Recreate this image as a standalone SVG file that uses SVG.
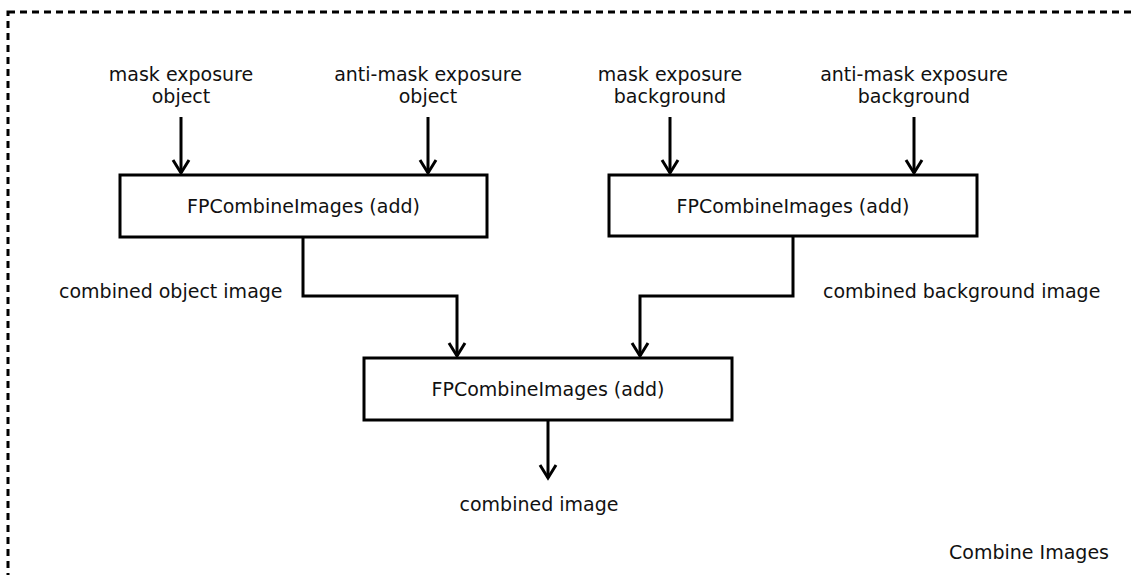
<svg xmlns="http://www.w3.org/2000/svg" width="1134" height="575" viewBox="0 0 1134 575">
<defs>
<style>
text{font-family:"DejaVu Sans","Liberation Sans",sans-serif;font-size:19px;fill:#111;}
.c{text-anchor:middle;}
.box{fill:#fff;stroke:#000;stroke-width:3;}
.con{fill:none;stroke:#000;stroke-width:3;marker-end:url(#arr);}
</style>
<marker id="arr" markerUnits="userSpaceOnUse" markerWidth="30" markerHeight="30" refX="0" refY="0" orient="auto" overflow="visible">
<path d="M-13,-8 L0,0 L-13,8" fill="none" stroke="#000" stroke-width="3"/>
</marker>
</defs>
<rect id="frame" x="8" y="12" width="1200" height="620" fill="none" stroke="#000" stroke-width="3" stroke-dasharray="7 5"/>
<g id="connectors">
<path class="con" d="M181,117 V173"/>
<path class="con" d="M428,117 V173"/>
<path class="con" d="M670,117 V173"/>
<path class="con" d="M914,117 V173"/>
<path class="con" d="M303,237 V296 H457 V356"/>
<path class="con" d="M793,237 V296 H640 V356"/>
<path class="con" d="M548,420 V478"/>
</g>
<g id="in1"><text class="c" x="181" y="81">mask exposure</text><text class="c" x="181" y="103">object</text></g>
<g id="in2"><text class="c" x="428" y="81">anti-mask exposure</text><text class="c" x="428" y="103">object</text></g>
<g id="in3"><text class="c" x="670" y="81">mask exposure</text><text class="c" x="670" y="103">background</text></g>
<g id="in4"><text class="c" x="914" y="81">anti-mask exposure</text><text class="c" x="914" y="103">background</text></g>
<g id="box1"><rect class="box" x="120" y="175" width="367" height="62"/><text class="c" x="303.5" y="213">FPCombineImages (add)</text></g>
<g id="box2"><rect class="box" x="609" y="175" width="368" height="61"/><text class="c" x="793" y="213">FPCombineImages (add)</text></g>
<g id="box3"><rect class="box" x="364" y="358" width="368" height="62"/><text class="c" x="548" y="396">FPCombineImages (add)</text></g>
<g id="lbl1"><text x="59" y="298">combined object image</text></g>
<g id="lbl2"><text x="823" y="298">combined background image</text></g>
<g id="out"><text class="c" x="539" y="511">combined image</text></g>
<g id="title"><text x="1109" y="559" text-anchor="end">Combine Images</text></g>
</svg>
